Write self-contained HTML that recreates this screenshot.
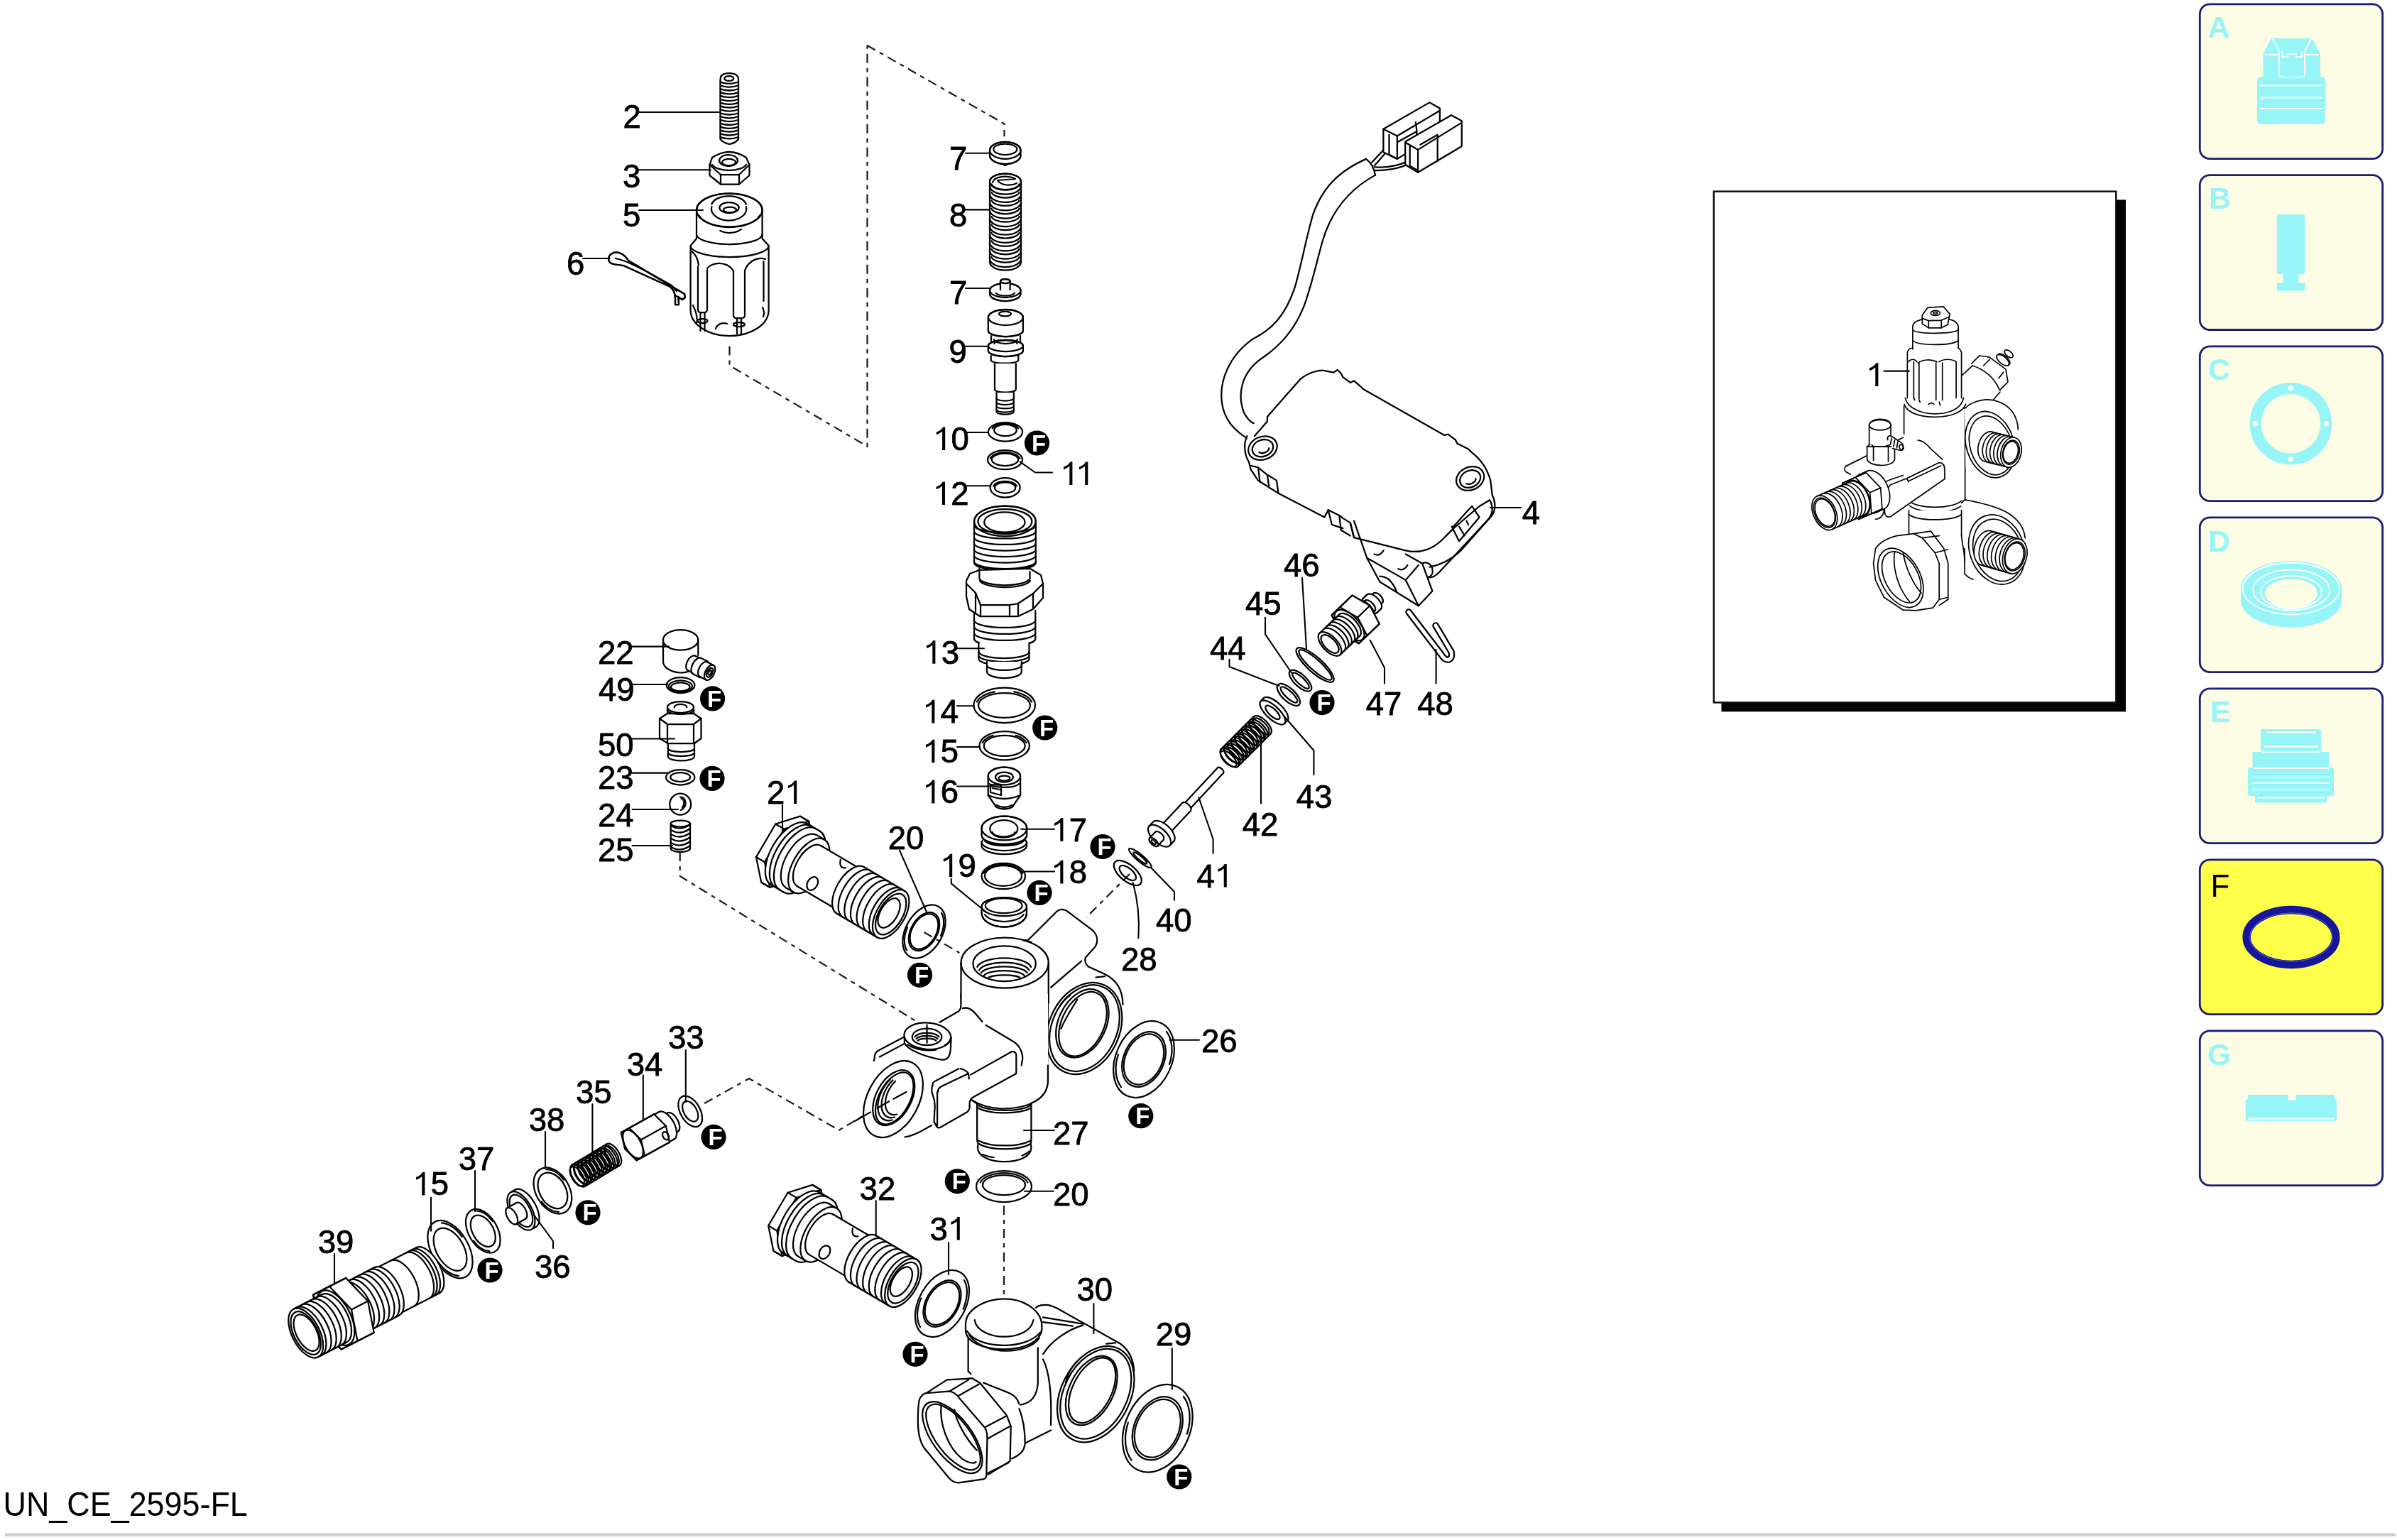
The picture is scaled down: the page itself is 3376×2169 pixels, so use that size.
<!DOCTYPE html>
<html><head><meta charset="utf-8"><title>UN_CE_2595-FL</title><style>
html,body{margin:0;padding:0;background:#fff;width:3376px;height:2169px;overflow:hidden}
svg{position:absolute;left:0;top:0;font-family:"Liberation Sans",sans-serif}
.lb text{font-size:45.5px;fill:#000}
.lb path{fill:#000;stroke:none}
.lb{stroke:#000;stroke-width:0.8}
.ld path{fill:none;stroke:#000;stroke-width:2.1;stroke-linecap:round;stroke-linejoin:round}
.dsh path{fill:none;stroke:#1a1a1a;stroke-width:2.2;stroke-dasharray:13 7 6 7}
.bd circle{fill:#000}
.bd text{fill:#fff;font-size:33px;font-weight:bold}
.k{fill:none;stroke:#000;stroke-width:2.25;stroke-linecap:round;stroke-linejoin:round}
.k .w,.w{fill:#fff}
.k .wf{fill:#fff;stroke:none}
.k *{vector-effect:non-scaling-stroke}
.k .t{stroke-width:1.5}
.k .b{fill:#000}
</style></head><body>
<svg width="3376" height="2169" viewBox="0 0 3376 2169" xmlns="http://www.w3.org/2000/svg">
<defs><filter id="bl" x="0" y="0" width="3376" height="2169" filterUnits="userSpaceOnUse"><feGaussianBlur stdDeviation="0.7"/></filter></defs>
<rect width="3376" height="2169" fill="#fff"/>
<g filter="url(#bl)">
<rect x="3098.3" y="5.9" width="257.4" height="217.8" rx="14" ry="14" fill="#fdfde6" stroke="#1b1b72" stroke-width="2.8"/><rect x="3098.3" y="246.7" width="257.4" height="217.8" rx="14" ry="14" fill="#fdfde6" stroke="#1b1b72" stroke-width="2.8"/><rect x="3098.3" y="487.9" width="257.4" height="217.8" rx="14" ry="14" fill="#fdfde6" stroke="#1b1b72" stroke-width="2.8"/><rect x="3098.3" y="728.9" width="257.4" height="217.8" rx="14" ry="14" fill="#fdfde6" stroke="#1b1b72" stroke-width="2.8"/><rect x="3098.3" y="969.9" width="257.4" height="217.8" rx="14" ry="14" fill="#fdfde6" stroke="#1b1b72" stroke-width="2.8"/><rect x="3098.3" y="1210.9" width="257.4" height="217.8" rx="14" ry="14" fill="#fefd4a" stroke="#1b1b72" stroke-width="2.8"/><rect x="3098.3" y="1451.9" width="257.4" height="217.8" rx="14" ry="14" fill="#fdfde6" stroke="#1b1b72" stroke-width="2.8"/>
<text x="3109.5" y="52.6" style="font-size:43px;font-weight:bold;fill:#97f5f7">A</text><text x="3111.0" y="294.0" style="font-size:43px;font-weight:bold;fill:#97f5f7">B</text><text x="3110.0" y="535.2" style="font-size:43px;font-weight:bold;fill:#97f5f7">C</text><text x="3110.0" y="777.0" style="font-size:43px;font-weight:bold;fill:#97f5f7">D</text><text x="3113.0" y="1017.4" style="font-size:43px;font-weight:bold;fill:#97f5f7">E</text><text x="3109.0" y="1499.8" style="font-size:43px;font-weight:bold;fill:#97f5f7">G</text><text x="3113.5" y="1263.0" style="font-size:44px;fill:#000">F</text><g fill="#97f5f7"><path d="M3199,54 L3256,54 L3268,76 L3268,110 L3187.5,110 L3187.5,76 Z"/><rect x="3179" y="108" width="96" height="67" rx="5"/></g><g fill="none" stroke="#fff" stroke-width="2"><path d="M3183,120.5 L3271,120.5 M3183,137.5 L3271,137.5 M3183,153 L3271,153"/><path d="M3201,55 L3210,72 L3210,104 Q3210,109 3216,109 L3240,109 Q3246,109 3246,104 L3246,72 L3255,55"/><path d="M3214,72 L3214,80 L3222,80 L3222,76 L3234,76 L3234,80 L3242,80 L3242,72"/><path d="M3190,77 L3208,77 M3248,77 L3266,77"/></g><g fill="#97f5f7"><rect x="3207" y="302" width="39.5" height="84" rx="3"/><rect x="3215.6" y="385" width="21.8" height="14"/><rect x="3207" y="398.5" width="39.5" height="11"/></g><circle cx="3226.4" cy="596.7" r="49.8" fill="none" stroke="#97f5f7" stroke-width="16"/><circle cx="3226.4" cy="546.7" r="3.6" fill="#fff"/><circle cx="3226.4" cy="646.7" r="3.6" fill="#fff"/><circle cx="3176.4" cy="596.7" r="3.6" fill="#fff"/><circle cx="3276.4" cy="596.7" r="3.6" fill="#fff"/><g fill="#97f5f7"><path d="M3156,829 A71,39 0 0 1 3298,829 L3298,845 A71,39 0 0 1 3156,845 Z"/></g><ellipse cx="3227" cy="836" rx="37" ry="20.5" fill="#fdfde6"/><g fill="none" stroke="#fff" stroke-width="1.8"><ellipse cx="3227" cy="829" rx="68" ry="36.5"/><ellipse cx="3227" cy="831" rx="54" ry="28.5"/><ellipse cx="3227" cy="834" rx="43" ry="23"/></g><g fill="#97f5f7"><rect x="3184" y="1027" width="85" height="32" rx="3"/><rect x="3172.5" y="1059" width="108" height="23"/><rect x="3166" y="1081" width="121" height="40" rx="3"/><rect x="3176" y="1120" width="101" height="10.5" rx="2"/></g><g stroke="#fff" stroke-width="2"><path d="M3192,1031.5 L3262,1031.5 M3189,1051.5 L3265,1051.5 M3186,1059 L3267,1059 M3175,1082 L3280,1082 M3171,1095 L3282,1095 M3171,1103 L3282,1103 M3172,1112 L3281,1112 M3179,1123.5 L3274,1123.5"/></g><ellipse cx="3227" cy="1320" rx="62.8" ry="38.4" fill="none" stroke="#12129a" stroke-width="11.5"/><ellipse cx="3227" cy="1320" rx="58.5" ry="34.2" fill="none" stroke="#aab0ff" stroke-width="0.8" opacity="0.6"/><g fill="#97f5f7"><path d="M3166,1542 L3222.6,1542 L3222.6,1549.5 L3233.4,1549.5 L3233.4,1542 L3288,1542 L3288,1548 L3291,1549 L3291,1577 Q3291,1579 3288,1579 L3165.8,1579 Q3162.8,1579 3162.8,1576 L3162.8,1549 L3166,1548 Z"/></g><rect x="3166" y="1574" width="122" height="3.5" fill="#d8fcfc"/>
<rect x="2424.5" y="281.4" width="569.5" height="720.9" fill="#000"/>
<rect x="2413.75" y="269.65" width="566.6" height="719.8" fill="#fff" stroke="#111" stroke-width="2.5"/>
<text x="0" y="0" transform="translate(4.6,2134.5) scale(0.935,1)" style="font-size:48px">UN_CE_2595-FL</text>
<rect x="7" y="2159.3" width="3367" height="4.6" fill="#d0d0d0"/>
<g class="dsh"><path d="M1221.5,64.0L1414.5,174.4L1414.5,192.3"/><path d="M1027.5,487.5L1027.5,514.8L1221.5,628.6L1221.5,64.0"/><path d="M957.7,1200.0L957.7,1234.0L1306.0,1448.0"/><path d="M1301.5,1313.0L1351.4,1342.0"/><path d="M992.0,1554.0L1055.0,1519.0L1181.6,1591.7L1238.7,1558.0"/><path d="M1414.0,1698.0L1414.0,1873.0"/><path d="M1591.0,1231.0L1530.0,1292.0"/></g>
<g class="k"><path d="M1014.5,112 Q1014.5,103 1027.3,103 Q1040,103 1040,112 L1040,196 Q1036,201.5 1027.3,203 Q1018.6,201.5 1014.5,196 Z" class="w"/><ellipse cx="1026.8" cy="110.5" rx="6.5" ry="3.4"/><path d="M1014.5,115.5 Q1027.3,120.1 1040,115.5"/><path d="M1014.5,120.3 Q1027.3,124.9 1040,120.3"/><path d="M1014.5,125.2 Q1027.3,129.8 1040,125.2"/><path d="M1014.5,130.1 Q1027.3,134.7 1040,130.1"/><path d="M1014.5,134.9 Q1027.3,139.5 1040,134.9"/><path d="M1014.5,139.8 Q1027.3,144.3 1040,139.8"/><path d="M1014.5,144.6 Q1027.3,149.2 1040,144.6"/><path d="M1014.5,149.4 Q1027.3,154 1040,149.4"/><path d="M1014.5,154.3 Q1027.3,158.9 1040,154.3"/><path d="M1014.5,159.2 Q1027.3,163.8 1040,159.2"/><path d="M1014.5,164 Q1027.3,168.6 1040,164"/><path d="M1014.5,168.8 Q1027.3,173.4 1040,168.8"/><path d="M1014.5,173.7 Q1027.3,178.3 1040,173.7"/><path d="M1014.5,178.6 Q1027.3,183.2 1040,178.6"/><path d="M1014.5,183.4 Q1027.3,188 1040,183.4"/><path d="M1014.5,188.2 Q1027.3,192.8 1040,188.2"/><path d="M1014.5,193.1 Q1027.3,197.7 1040,193.1"/><path d="M999.5,232 L1003,222 Q1027,206 1051,222 L1055.5,232 L1055.5,247 L1041,259.5 L1015,259.5 L999.5,247 Z" class="w"/><path d="M999.5,232 L1015,246 L1041,246 L1055.5,232 M1015,246 L1015,259.5 M1041,246 L1041,259.5"/><path d="M1051.1,231.8A25,11 0 0 1 1002.9,231.8"/><ellipse cx="1026" cy="226" rx="13" ry="8"/><ellipse cx="1026.5" cy="228.5" rx="9.5" ry="4.6"/><path d="M981,296 A46.3,23.5 0 0 1 1073.6,296 L1073.6,336 L1082.6,346 L1082.6,437 A55,36 0 0 1 972.6,437 L972.6,346 L981,336 Z" class="w"/><ellipse cx="1027.3" cy="295.9" rx="46.3" ry="23.5"/><path d="M1050.8,291.2A24.6,16.4 0 1 1 1002.4,291.2"/><path d="M1002.4,287.6A24.6,14 0 0 1 1050.8,287.6"/><ellipse cx="1027" cy="292.5" rx="13.7" ry="7.5"/><ellipse cx="1028" cy="295.5" rx="9" ry="3.8"/><path d="M1069.8,303.7A44,22 0 0 1 984.8,303.7"/><path d="M1044,322.9A26,22 0 0 1 1014.3,325.1"/><path d="M1073.6,330A46.3,14 0 0 1 981,330"/><path d="M1082.6,346A55,16 0 0 1 972.6,346"/><path d="M983,375 L983,436 Q983,440 987,440 L992,440 Q996,440 996,436 L996,380"/><path d="M1033,382 L1033,444 Q1033,448 1037,448 L1045,448 Q1049,448 1049,444 L1049,382"/><path d="M1075.5,368 L1075.5,424"/><path d="M974,354 C980,358 983,366 984,373 M996,378 C1002,369 1025,367 1033,382 M1049,381 C1055,365 1070,362 1078,365"/><path d="M986.5,440 L986.5,466 M992.5,440 L992.5,466 M1038,448 L1038,470 M1044,448 L1044,470"/><ellipse cx="989.5" cy="452" rx="7" ry="3"/><ellipse cx="1041" cy="457" rx="8" ry="3"/><path d="M1008,463 C1010,456 1018,454 1024,456 M976,430 C981,440 983,448 981,456 M1074,433 C1076,438 1077,441 1075,446"/><path d="M885,367 L964,414 L965,419 L961,422 L955,418 L956,429 L951,429 L951,420 C951,414 949,408 944,404 L878,374 C872,373 866,373 861,371 C855,368 856,359 864,356 C870,354 879,357 885,367 Z" class="w"/><path d="M885,367 L964,414 L965,419 L961,422 L953,417"/><path d="M878,374 L944,404 C949,408 951,414 951,420 L951,429 L956,429 L956,419"/><path d="M885,367 C879,357 870,354 864,356 C856,359 855,368 861,371 C866,373 872,373 878,374"/><path d="M867,364 C880,366 900,376 946,402 L953,410"/><path d="M1394,211.8 A21.7,12 0 0 1 1437.5,211.8 L1437.5,219 A21.7,12 0 0 1 1394,219 Z" class="w"/><ellipse cx="1415.8" cy="211.8" rx="21.7" ry="12"/><ellipse cx="1415.8" cy="210.3" rx="16.5" ry="7.8"/><path d="M1437.5,219A21.7,12 0 0 1 1394.1,219"/><path d="M1411,230.5 L1415.8,233 L1420.5,230.5"/><path d="M1394,256 A22,11.5 0 0 1 1438,256 L1438,369 A22,11.5 0 0 1 1394,369 Z" class="w"/><ellipse cx="1416" cy="256" rx="22" ry="11.5"/><path d="M1398,257 C1400,248 1420,246 1430,252 L1405,254 C1410,262 1425,262 1432,258"/><path d="M1438,262A22,11.5 0 0 1 1394,262"/><path d="M1435.6,259.5A20,9.5 0 0 1 1396.4,259.5"/><path d="M1438,273.4A22,11.5 0 0 1 1394,273.4"/><path d="M1435.6,270.9A20,9.5 0 0 1 1396.4,270.9"/><path d="M1438,284.8A22,11.5 0 0 1 1394,284.8"/><path d="M1435.6,282.3A20,9.5 0 0 1 1396.4,282.3"/><path d="M1438,296.2A22,11.5 0 0 1 1394,296.2"/><path d="M1435.6,293.7A20,9.5 0 0 1 1396.4,293.7"/><path d="M1438,307.6A22,11.5 0 0 1 1394,307.6"/><path d="M1435.6,305.1A20,9.5 0 0 1 1396.4,305.1"/><path d="M1438,319A22,11.5 0 0 1 1394,319"/><path d="M1435.6,316.5A20,9.5 0 0 1 1396.4,316.5"/><path d="M1438,330.4A22,11.5 0 0 1 1394,330.4"/><path d="M1435.6,327.9A20,9.5 0 0 1 1396.4,327.9"/><path d="M1438,341.8A22,11.5 0 0 1 1394,341.8"/><path d="M1435.6,339.3A20,9.5 0 0 1 1396.4,339.3"/><path d="M1438,353.2A22,11.5 0 0 1 1394,353.2"/><path d="M1435.6,350.7A20,9.5 0 0 1 1396.4,350.7"/><path d="M1438,364.6A22,11.5 0 0 1 1394,364.6"/><path d="M1435.6,362.1A20,9.5 0 0 1 1396.4,362.1"/><path d="M1394,409 A21.7,10 0 0 1 1437.5,409 L1437.5,414 A21.7,10 0 0 1 1394,414 Z" class="w"/><ellipse cx="1415.8" cy="409" rx="21.7" ry="10"/><path d="M1437.5,414A21.7,10 0 0 1 1394.1,414"/><path d="M1429,412.6A14,6 0 0 1 1402.6,412.6"/><path d="M1409,408 L1409,396 A6.8,3 0 0 1 1422.6,396 L1422.6,408" class="w"/><ellipse cx="1415.8" cy="396" rx="6.8" ry="3"/><path d="M1391.8,447 A24.5,11 0 0 1 1440.9,447 L1440.9,466 A24.5,8 0 0 1 1391.8,466 Z" class="w"/><ellipse cx="1416.4" cy="447" rx="24.5" ry="11"/><ellipse cx="1415.5" cy="442" rx="8.5" ry="3.4"/><path d="M1440.9,466A24.5,8 0 0 1 1391.9,466"/><path d="M1396,473 L1396,481 M1437,473 L1437,481"/><path d="M1391.8,487 A24.5,8 0 0 1 1440.9,487 L1440.9,494 A24.5,8 0 0 1 1391.8,494 Z" class="w"/><path d="M1391.9,487A24.5,8 0 0 1 1440.9,487"/><path d="M1440.9,487A24.5,8 0 0 1 1391.9,487"/><path d="M1440.9,494A24.5,8 0 0 1 1391.9,494"/><path d="M1400.4,484A16,5 0 0 1 1432.4,484"/><path d="M1400,478 A16.4,6 0 0 0 1432.8,478"/><path d="M1395.7,501 L1395.7,508 A20,5 0 0 0 1434.3,508 L1434.3,501"/><path d="M1401,512 L1401,549 A15,4 0 0 0 1430.8,549 L1430.8,512" class="w"/><path d="M1403.5,553 L1403.5,580 A12.2,4 0 0 0 1427.8,580 L1427.8,553" class="w"/><path d="M1427.8,561A12.2,3.5 0 0 1 1403.4,561"/><path d="M1427.8,566.5A12.2,3.5 0 0 1 1403.4,566.5"/><path d="M1427.8,572A12.2,3.5 0 0 1 1403.4,572"/><path d="M1427.8,577A12.2,3.5 0 0 1 1403.4,577"/><ellipse cx="1416" cy="608.3" rx="24.1" ry="13.3" class="w"/><ellipse cx="1416" cy="606" rx="15.8" ry="8.2"/><path d="M1397.7,603.4A19.5,10.5 0 0 1 1434.3,603.4"/><ellipse cx="1415.5" cy="647.6" rx="24.5" ry="13.6" class="w"/><ellipse cx="1415.5" cy="647.3" rx="18.7" ry="8.7"/><path d="M1394.7,645.6A21.5,11.3 0 0 1 1436.3,645.6"/><ellipse cx="1415.6" cy="686.8" rx="21" ry="13.8" class="w"/><ellipse cx="1415.6" cy="687" rx="14.6" ry="7.6"/><path d="M1399.2,684.5A17.5,10.2 0 0 1 1432,684.5"/><path d="M1372,734 A43.4,21.3 0 0 1 1458.8,734 L1458.8,793 A43.4,10 0 0 1 1372,793 Z" class="w"/><ellipse cx="1415.4" cy="734" rx="43.4" ry="21.3"/><ellipse cx="1415.4" cy="734.5" rx="38" ry="17.5"/><ellipse cx="1414.9" cy="735.5" rx="28.7" ry="14.1"/><path d="M1458.8,740A43.4,10 0 0 1 1372,740"/><path d="M1458.8,748.5A43.4,10 0 0 1 1372,748.5"/><path d="M1458.8,757A43.4,10 0 0 1 1372,757"/><path d="M1458.8,765.5A43.4,10 0 0 1 1372,765.5"/><path d="M1458.8,774A43.4,10 0 0 1 1372,774"/><path d="M1458.8,782.5A43.4,10 0 0 1 1372,782.5"/><path d="M1458.8,791A43.4,10 0 0 1 1372,791"/><path d="M1372,860 L1372,900 A43,10 0 0 0 1458.3,900 L1458.3,860" class="w"/><path d="M1458,874.9A43,10 0 0 1 1372.4,874.9"/><path d="M1458,883.9A43,10 0 0 1 1372.4,883.9"/><path d="M1458,892.9A43,10 0 0 1 1372.4,892.9"/><path d="M1458,900.9A43,10 0 0 1 1372.4,900.9"/><path d="M1378.4,905 L1378.4,928 A35.5,9 0 0 0 1449.5,928 L1449.5,905" class="w"/><path d="M1449.5,918A35.5,9 0 0 1 1378.5,918"/><path d="M1449,924.6A35.5,9 0 0 1 1379,924.6"/><path d="M1390,932 L1390,946 A24.4,9 0 0 0 1438.8,946 L1438.8,932" class="w"/><path d="M1438.8,937A24.4,7 0 0 1 1390,937"/><path d="M1379.4,800 L1379.4,812 M1450.5,800 L1450.5,812"/><path d="M1361,818 L1366,808 L1379,803 L1451,801 L1466,810 L1469,822 L1469,842 L1455,858 L1434,868 L1380,868 L1365,858 L1361,840 Z" class="w"/><path d="M1379.4,805 L1379.4,815 A36,11 0 0 0 1450.5,815 L1450.5,805"/><path d="M1450.9,817.9A36,11 0 0 1 1379.9,817.9"/><path d="M1361,822 L1374,835 L1381,852 L1422,852 L1434,850 L1455,836 L1469,822"/><path d="M1381,852 L1381,868 M1422,852 L1422,868 M1434,850 L1434,867 M1374,835 L1374,862 M1455,836 L1455,858"/><ellipse cx="1414.7" cy="993.3" rx="43.3" ry="24.7" class="w"/><ellipse cx="1414.5" cy="993.5" rx="36.5" ry="17.3"/><path d="M1375.9,988.6A40,21 0 0 1 1400.8,974.3"/><path d="M1428.2,974.3A40,21 0 0 1 1453.1,988.6"/><ellipse cx="1414.7" cy="1050.2" rx="35.2" ry="20.2" class="w"/><ellipse cx="1414.7" cy="1050.4" rx="29" ry="14.5"/><path d="M1383.8,1046.1A32,17 0 0 1 1398.7,1035.8"/><path d="M1430.7,1035.8A32,17 0 0 1 1445.6,1046.1"/><path d="M1391.7,1093 A22.7,12.3 0 0 1 1437.1,1093 L1437.1,1120 L1425.5,1137 Q1414.4,1142 1403.4,1137 L1391.7,1120 Z" class="w"/><ellipse cx="1414.4" cy="1093" rx="22.7" ry="12.3"/><ellipse cx="1414.4" cy="1094.5" rx="12.4" ry="7"/><ellipse cx="1414.4" cy="1096" rx="8" ry="3.5"/><path d="M1435.7,1103.7A22.7,8 0 0 1 1393.1,1103.7"/><path d="M1391.7,1120 Q1414.4,1130 1437.1,1120"/><path d="M1395,1105 L1395,1116 L1410,1120 L1410,1106 Z M1398,1110 L1408,1112"/><path d="M1403.4,1134 Q1414.4,1140 1425.5,1134"/><path d="M1382.6,1166.5 A31.8,16.9 0 0 1 1446.2,1166.5 L1446.2,1177 L1443,1182 L1446,1186 L1446,1192 A31.8,12 0 0 1 1382.6,1192 L1382.6,1186 L1385,1182 L1382.6,1177 Z" class="w"/><ellipse cx="1414.4" cy="1166.5" rx="31.8" ry="16.9"/><ellipse cx="1413.8" cy="1167.3" rx="19.5" ry="12.3"/><path d="M1429.1,1172A15.6,6.5 0 0 1 1397.9,1172"/><path d="M1445.7,1179.1A31.8,12 0 0 1 1383.1,1179.1"/><path d="M1446.2,1186A31.8,12 0 0 1 1382.6,1186"/><path d="M1441.7,1184.4A29,10 0 0 1 1387.1,1184.4"/><ellipse cx="1413.3" cy="1234" rx="30.7" ry="18.2" class="w"/><ellipse cx="1413" cy="1233.5" rx="26" ry="14.3"/><path d="M1385.5,1229.8A28.5,16.2 0 0 1 1440.5,1229.8"/><path d="M1382.6,1277 A31.7,13 0 0 1 1446,1277 L1446,1286 A31.7,19.5 0 0 1 1382.6,1286 Z" class="w"/><ellipse cx="1414.3" cy="1277" rx="31.7" ry="13"/><ellipse cx="1413.7" cy="1275.6" rx="26" ry="10.4"/><path d="M1446,1286A31.7,19.5 0 0 1 1382.6,1286"/><path d="M1441.6,1288.1A29,15 0 0 1 1387,1288.1"/><g transform="translate(1340,1270) scale(0.168833)"><path class="wf" d="M640,320 L880,80 C905,60 935,62 960,75 L1180,240 C1220,280 1225,330 1200,375 L1120,465 C1110,490 1120,520 1140,540 L1270,600 C1380,650 1430,740 1430,860 L1300,1400 L810,1400 L810,500 Z"/><path class="wf" d="M80,510 L80,1000 L800,1540 L810,510 Z"/><ellipse class="wf" cx="445" cy="510" rx="365" ry="210"/><path d="M600,320 L640,320 L880,80 C905,60 935,62 960,75 L1180,240 C1220,280 1225,330 1200,375 L1120,465 C1110,490 1120,520 1140,540 L1270,600 C1380,650 1430,740 1430,860"/><path d="M600,322 C630,330 650,335 668,338"/><path d="M830,715 L1085,495"/><path d="M1205,632 L1280,622"/><ellipse cx="1108" cy="1057" rx="398.6" ry="293.7" transform="rotate(-65 1108 1057)" class="w"/><ellipse cx="1110" cy="1055" rx="376.7" ry="270.1" transform="rotate(-65 1110 1055)"/><ellipse cx="1092" cy="1015" rx="300.6" ry="198.2" transform="rotate(-65 1092 1015)"/><ellipse cx="1096" cy="1020" rx="284" ry="176.5" transform="rotate(-65 1096 1020)"/><path d="M990,780 C960,800 930,830 905,870"/><path d="M1050,815 C1000,900 940,990 915,1060"/><ellipse cx="445" cy="510" rx="365" ry="210"/><ellipse cx="442" cy="517" rx="262" ry="147"/><path d="M215.5,544.4A228,90 0 0 1 664.5,544.4"/><path d="M231.2,571.5A212,78 0 0 1 648.8,571.5"/><path d="M248,593.9A195,64 0 0 1 632,593.9"/><path d="M270.6,616.3A172,50 0 0 1 609.4,616.3"/><path d="M302.1,639.3A140,33 0 0 1 577.9,639.3"/><path d="M80,510 L80,880 C80,910 60,925 0,950"/><path d="M810,510 L810,845 M805,852 L800,1390"/></g><g transform="translate(1200,1400) scale(0.162338)"><path class="wf" d="M945,0 L1700,0 L1700,760 C1695,850 1640,910 1560,945 L1555,1290 C1555,1400 1450,1450 1320,1450 C1200,1450 1090,1400 1090,1290 L1085,960 L1040,920 L1020,920 L1010,990 L990,1030 L760,1160 L735,1150 L720,1120 L690,1140 L560,1210 L460,1240 C330,1250 200,1180 140,1000 C80,800 100,620 190,575 L195,540 C195,520 205,505 230,490 L450,370 C455,300 560,250 655,250 C700,250 740,255 760,245 L930,150 Z"/><path d="M945,0 L945,100 C945,130 935,145 915,155 L760,245"/><path class="wf" d="M455,370 L455,425 C470,470 600,540 780,570 C830,575 850,540 855,480 L860,380 Z"/><ellipse cx="655" cy="365" rx="203" ry="115" transform="rotate(4 655 365)"/><ellipse cx="650" cy="372" rx="128" ry="72"/><path d="M544.8,372.2A112,52 0 0 1 755.2,372.2"/><path d="M557.9,388.3A98,40 0 0 1 742.1,388.3"/><path d="M571.1,404.4A84,28 0 0 1 728.9,404.4"/><path d="M650,268 L650,425"/><path d="M455,380 L455,425 C470,470 600,540 780,570 C830,575 850,540 855,480 L860,380"/><path d="M480,440 C560,485 650,495 730,485"/><path d="M805,445 C830,432 845,415 850,398"/><path d="M452,372 L230,490 C205,505 195,520 195,560 L190,578"/><path d="M452,432 L240,545"/><ellipse cx="357" cy="912" rx="357" ry="222.2" transform="rotate(-62 357 912)" class="w"/><ellipse cx="362" cy="900" rx="259.3" ry="153.2" transform="rotate(-62 362 900)"/><ellipse cx="368" cy="905" rx="244.6" ry="134.2" transform="rotate(-62 368 905)"/><path d="M347.5,1093.5A223,131.8 -62 0 1 331.6,740"/><path d="M368.5,1068.7A202.3,119.5 -62 0 1 354.1,748.1"/><path d="M389.5,1044A181.5,107.3 -62 0 1 376.6,756.3"/><path d="M30,1100 L160,1025 M220,990 L320,932 M360,910 L470,850"/><path d="M460,1240 C520,1235 560,1210 600,1190 L690,1140"/><path d="M700,790 C695,770 710,760 730,752 L925,648"/><path d="M940,648 C965,652 1000,670 1010,690 L1015,735"/><path d="M1030,700 L1385,500 C1410,495 1425,510 1425,530 L1425,690 L1060,890 C1030,905 1020,925 1020,950 L1020,990 C1015,1010 1000,1025 985,1032 L770,1155 C750,1165 735,1160 730,1140"/><path d="M700,790 C688,815 690,850 702,880 C718,920 722,970 716,1020 L712,1110 L730,1140"/><path d="M740,850 L740,1140"/><path d="M745,850 C745,825 760,805 790,795 L1010,690"/><path d="M1040,920 C1100,960 1200,990 1300,995 C1420,995 1520,970 1560,945"/><path d="M1700,620 L1700,760 C1695,850 1640,910 1560,945"/><path d="M960,125 C1000,110 1040,130 1080,180 L1130,240"/><path d="M1160,270 L1380,400 C1440,430 1480,490 1480,560 L1470,620"/><path d="M1040,922 C1060,935 1075,945 1085,955 L1085,1265 C1085,1280 1092,1292 1095,1300 L1090,1330 C1090,1410 1200,1455 1320,1455 C1450,1455 1555,1410 1555,1330 L1550,1295 C1555,1285 1555,1270 1555,1260 L1555,960"/><path d="M1085,962 C1200,1025 1450,1025 1555,965"/><path d="M1090,988 C1200,1045 1440,1045 1550,992"/><path d="M1095,1270 C1200,1330 1450,1330 1550,1270"/><path d="M1100,1300 C1200,1360 1450,1360 1550,1300"/><path d="M1130,1392 C1170,1408 1200,1414 1230,1418"/><path d="M1475,1402 C1500,1392 1520,1382 1535,1366"/></g><g transform="translate(1254.7,1287.5) rotate(30.5)"><path class="wf" d="M-204.3,-27 L-180,-54 L-166,-54 L-141.7,-27 L-141.7,27 L-166,54 L-180,54 L-204.3,27Z"/><path d="M-204.3,-27 L-180,-54 L-166,-54 L-141.7,-27 L-141.7,27 L-166,54 L-180,54 L-204.3,27Z"/><path d="M-141.7,27 L-166,54 L-190.3,27 L-190.3,-27 L-166,-54 L-141.7,-27Z"/><path d="M-180,54 L-166,54"/><path d="M-204.3,27 L-190.3,27"/><path d="M-204.3,-27 L-190.3,-27"/><path d="M-180,-54 L-166,-54"/><path class="wf" d="M-166,-50 L-146,-50 A26,50 0 0 1 -146,50 L-166,50 A26,50 0 0 1 -166,-50 Z"/><path d="M-166,-50 L-146,-50 M-166,50 L-146,50"/><path d="M-166,50A26,50 0 0 1 -166,-50"/><path d="M-146,-50A26,50 0 0 1 -146,50"/><path d="M-159,50A26,50 0 0 1 -159,-50"/><path d="M-152,50A26,50 0 0 1 -152,-50"/><path class="wf" d="M-146,-43 L-134,-43 A22.4,43 0 0 1 -134,43 L-146,43 A22.4,43 0 0 1 -146,-43 Z"/><path d="M-146,-43 L-134,-43 M-146,43 L-134,43"/><path d="M-146,43A22.4,43 0 0 1 -146,-43"/><ellipse cx="-134" cy="0" rx="22.4" ry="43"/><path d="M-124.1,-32.9A19.8,38 0 0 1 -124.1,32.9"/><path class="wf" d="M-134,-33 L-66,-33 A17.2,33 0 0 1 -66,33 L-134,33 A17.2,33 0 0 1 -134,-33 Z"/><path d="M-134,-33 L-66,-33 M-134,33 L-66,33"/><path d="M-134,33A17.2,33 0 0 1 -134,-33"/><path d="M-66,-33A17.2,33 0 0 1 -66,33"/><path class="wf" d="M-66,-38 L0,-38 A19.8,38 0 0 1 0,38 L-66,38 A19.8,38 0 0 1 -66,-38 Z"/><path d="M-66,-38 L0,-38 M-66,38 L0,38"/><path d="M-66,38A19.8,38 0 0 1 -66,-38"/><ellipse cx="0" cy="0" rx="19.8" ry="38"/><path d="M-56,38A19.8,38 0 0 1 -56,-38"/><path d="M-46,38A19.8,38 0 0 1 -46,-38"/><path d="M-36,38A19.8,38 0 0 1 -36,-38"/><path d="M-26,38A19.8,38 0 0 1 -26,-38"/><path d="M-16,38A19.8,38 0 0 1 -16,-38"/><path d="M-6,38A19.8,38 0 0 1 -6,-38"/><ellipse cx="0" cy="0" rx="16.6" ry="32"/><ellipse cx="-3" cy="0" rx="12" ry="23"/><ellipse cx="-117" cy="19" rx="7" ry="10"/><path d="M-100,-30 C-97,-22 -93,-20 -88,-24"/></g><g transform="translate(1271.9,1806.7) rotate(30.5)"><path class="wf" d="M-204.3,-27 L-180,-54 L-166,-54 L-141.7,-27 L-141.7,27 L-166,54 L-180,54 L-204.3,27Z"/><path d="M-204.3,-27 L-180,-54 L-166,-54 L-141.7,-27 L-141.7,27 L-166,54 L-180,54 L-204.3,27Z"/><path d="M-141.7,27 L-166,54 L-190.3,27 L-190.3,-27 L-166,-54 L-141.7,-27Z"/><path d="M-180,54 L-166,54"/><path d="M-204.3,27 L-190.3,27"/><path d="M-204.3,-27 L-190.3,-27"/><path d="M-180,-54 L-166,-54"/><path class="wf" d="M-166,-50 L-146,-50 A26,50 0 0 1 -146,50 L-166,50 A26,50 0 0 1 -166,-50 Z"/><path d="M-166,-50 L-146,-50 M-166,50 L-146,50"/><path d="M-166,50A26,50 0 0 1 -166,-50"/><path d="M-146,-50A26,50 0 0 1 -146,50"/><path d="M-159,50A26,50 0 0 1 -159,-50"/><path d="M-152,50A26,50 0 0 1 -152,-50"/><path class="wf" d="M-146,-43 L-134,-43 A22.4,43 0 0 1 -134,43 L-146,43 A22.4,43 0 0 1 -146,-43 Z"/><path d="M-146,-43 L-134,-43 M-146,43 L-134,43"/><path d="M-146,43A22.4,43 0 0 1 -146,-43"/><ellipse cx="-134" cy="0" rx="22.4" ry="43"/><path d="M-124.1,-32.9A19.8,38 0 0 1 -124.1,32.9"/><path class="wf" d="M-134,-33 L-66,-33 A17.2,33 0 0 1 -66,33 L-134,33 A17.2,33 0 0 1 -134,-33 Z"/><path d="M-134,-33 L-66,-33 M-134,33 L-66,33"/><path d="M-134,33A17.2,33 0 0 1 -134,-33"/><path d="M-66,-33A17.2,33 0 0 1 -66,33"/><path class="wf" d="M-66,-38 L0,-38 A19.8,38 0 0 1 0,38 L-66,38 A19.8,38 0 0 1 -66,-38 Z"/><path d="M-66,-38 L0,-38 M-66,38 L0,38"/><path d="M-66,38A19.8,38 0 0 1 -66,-38"/><ellipse cx="0" cy="0" rx="19.8" ry="38"/><path d="M-56,38A19.8,38 0 0 1 -56,-38"/><path d="M-46,38A19.8,38 0 0 1 -46,-38"/><path d="M-36,38A19.8,38 0 0 1 -36,-38"/><path d="M-26,38A19.8,38 0 0 1 -26,-38"/><path d="M-16,38A19.8,38 0 0 1 -16,-38"/><path d="M-6,38A19.8,38 0 0 1 -6,-38"/><ellipse cx="0" cy="0" rx="16.6" ry="32"/><ellipse cx="-3" cy="0" rx="12" ry="23"/><ellipse cx="-117" cy="19" rx="7" ry="10"/><path d="M-100,-30 C-97,-22 -93,-20 -88,-24"/></g><ellipse cx="1301.5" cy="1312" rx="40.6" ry="25.7" transform="rotate(-60 1301.5 1312)"/><ellipse cx="1301.5" cy="1312" rx="29.2" ry="18.5" transform="rotate(-60 1301.5 1312)"/><ellipse cx="1301.5" cy="1312" rx="26.8" ry="17" transform="rotate(-60 1301.5 1312)"/><path d="M1277,1338.3A37.3,23.6 -60 0 1 1278.1,1306"/><path d="M1326,1285.7A37.3,23.6 -60 0 1 1324.9,1318"/><ellipse cx="1327" cy="1836" rx="50.9" ry="32.6" transform="rotate(-60 1327 1836)"/><ellipse cx="1327" cy="1836" rx="35.6" ry="22.8" transform="rotate(-60 1327 1836)"/><ellipse cx="1327" cy="1836" rx="32.6" ry="20.9" transform="rotate(-60 1327 1836)"/><path d="M1296.1,1869A46.8,30 -60 0 1 1297.4,1828.3"/><path d="M1357.9,1803A46.8,30 -60 0 1 1356.6,1843.7"/><ellipse cx="1611" cy="1492" rx="56.6" ry="39.3" transform="rotate(-65 1611 1492)"/><ellipse cx="1611" cy="1492" rx="37.3" ry="25.9" transform="rotate(-65 1611 1492)"/><ellipse cx="1611" cy="1492" rx="40.7" ry="28.3" transform="rotate(-65 1611 1492)"/><path d="M1579.1,1531.1A52.1,36.2 -65 0 1 1574.9,1485.1"/><path d="M1642.9,1452.9A52.1,36.2 -65 0 1 1647.1,1498.9"/><ellipse cx="1630.3" cy="2011.8" rx="64.8" ry="45.2" transform="rotate(-65 1630.3 2011.8)"/><ellipse cx="1630.3" cy="2011.8" rx="42.8" ry="29.8" transform="rotate(-65 1630.3 2011.8)"/><ellipse cx="1630.3" cy="2011.8" rx="46.7" ry="32.6" transform="rotate(-65 1630.3 2011.8)"/><path d="M1593.7,2056.6A59.7,41.6 -65 0 1 1588.8,2003.9"/><path d="M1666.9,1967A59.7,41.6 -65 0 1 1671.8,2019.7"/><ellipse cx="1414" cy="1671" rx="39" ry="22" class="w"/><ellipse cx="1414" cy="1669" rx="30" ry="14"/><path d="M1380.7,1665.3A34.5,18 0 0 1 1447.3,1665.3"/><ellipse cx="634" cy="1759.7" rx="44.4" ry="26" transform="rotate(60 634 1759.7)"/><ellipse cx="634" cy="1759.7" rx="32.9" ry="19.2" transform="rotate(60 634 1759.7)"/><path d="M621.9,1722.4A40.9,23.9 60 0 1 650.8,1741.8"/><path d="M646.1,1797A40.9,23.9 60 0 1 617.2,1777.6"/><ellipse cx="680.3" cy="1733.8" rx="33.6" ry="20.3" transform="rotate(60 680.3 1733.8)"/><ellipse cx="680.3" cy="1733.8" rx="24.2" ry="14.6" transform="rotate(60 680.3 1733.8)"/><path d="M671.3,1705.4A30.9,18.7 60 0 1 693.6,1719.9"/><path d="M689.3,1762.2A30.9,18.7 60 0 1 667,1747.7"/><ellipse cx="778.4" cy="1677" rx="34.9" ry="23.5" transform="rotate(60 778.4 1677)"/><ellipse cx="778.4" cy="1677" rx="27.2" ry="18.3" transform="rotate(60 778.4 1677)"/><path d="M769.7,1647.2A32.1,21.6 60 0 1 794,1661.5"/><path d="M787.1,1706.8A32.1,21.6 60 0 1 762.8,1692.5"/><ellipse cx="972.2" cy="1565.3" rx="23.8" ry="13.8" transform="rotate(60 972.2 1565.3)"/><ellipse cx="972.2" cy="1565.3" rx="15.7" ry="9.1" transform="rotate(60 972.2 1565.3)"/><ellipse cx="1588.3" cy="1229.5" rx="23.6" ry="11.4" transform="rotate(40 1588.3 1229.5)"/><ellipse cx="1588.3" cy="1229.5" rx="14.2" ry="6.8" transform="rotate(40 1588.3 1229.5)"/><ellipse cx="1605.8" cy="1208.5" rx="20.2" ry="4.7" transform="rotate(40 1605.8 1208.5)"/><ellipse cx="1605.8" cy="1208.5" rx="12.1" ry="2.8" transform="rotate(40 1605.8 1208.5)"/><ellipse cx="1814.9" cy="978.5" rx="20.5" ry="9" transform="rotate(43 1814.9 978.5)"/><ellipse cx="1815.5" cy="978.5" rx="15.5" ry="5" transform="rotate(43 1815.5 978.5)"/><ellipse cx="1831.5" cy="958.7" rx="20" ry="8.5" transform="rotate(43 1831.5 958.7)"/><ellipse cx="1832" cy="958.7" rx="15.5" ry="4.8" transform="rotate(43 1832 958.7)"/><ellipse cx="1852.1" cy="936.5" rx="34.5" ry="10.5" transform="rotate(42 1852.1 936.5)"/><ellipse cx="1852.5" cy="936.5" rx="30.5" ry="7.5" transform="rotate(42 1852.5 936.5)"/><g transform="translate(1796.5,999) rotate(133)"><path class="wf" d="M0,-23 L6,-23 A9.2,23 0 0 1 6,23 L0,23 A9.2,23 0 0 1 0,-23 Z"/><path d="M0,-23 L6,-23 M0,23 L6,23"/><path d="M0,23A9.2,23 0 0 1 -0,-23"/><ellipse cx="6" cy="0" rx="9.2" ry="23"/><ellipse cx="6" cy="0" rx="5.2" ry="13"/></g><g transform="translate(602.2,1789.4) rotate(152.8)"><path class="wf" d="M0,-36 L65,-36 A18.4,36 0 0 1 65,36 L0,36 A18.4,36 0 0 1 0,-36 Z"/><path d="M0,-36 L65,-36 M0,36 L65,36"/><path d="M0,36A18.4,36 0 0 1 -0,-36"/><path d="M65,-36A18.4,36 0 0 1 65,36"/><path d="M6,36A18.4,36 0 0 1 6,-36"/><path d="M11,36A18.4,36 0 0 1 11,-36"/><path d="M16,36A18.4,36 0 0 1 16,-36"/><path d="M40,36A18.4,36 0 0 1 40,-36"/><path class="wf" d="M65,-38 L120,-38 A19.4,38 0 0 1 120,38 L65,38 A19.4,38 0 0 1 65,-38 Z"/><path d="M65,-38 L120,-38 M65,38 L120,38"/><path d="M65,38A19.4,38 0 0 1 65,-38"/><path d="M120,-38A19.4,38 0 0 1 120,38"/><path d="M72,38A19.4,38 0 0 1 72,-38"/><path d="M80,38A19.4,38 0 0 1 80,-38"/><path d="M88,38A19.4,38 0 0 1 88,-38"/><path d="M96,38A19.4,38 0 0 1 96,-38"/><path d="M104,38A19.4,38 0 0 1 104,-38"/><path d="M112,38A19.4,38 0 0 1 112,-38"/><path class="wf" d="M94.5,0 L107.2,-43.3 L158.8,-43.3 L171.5,0 L158.8,43.3 L107.2,43.3Z"/><path d="M94.5,0 L107.2,-43.3 L158.8,-43.3 L171.5,0 L158.8,43.3 L107.2,43.3Z"/><path d="M171.5,0 L158.8,43.3 L133.2,43.3 L120.5,0 L133.2,-43.3 L158.8,-43.3Z"/><path d="M107.2,43.3 L133.2,43.3"/><path d="M94.5,0 L120.5,0"/><path d="M107.2,-43.3 L133.2,-43.3"/><ellipse cx="146" cy="0" rx="21.4" ry="42"/><path class="wf" d="M148,-38 L192.8,-38 A19.4,38 0 0 1 192.8,38 L148,38 A19.4,38 0 0 1 148,-38 Z"/><path d="M148,-38 L192.8,-38 M148,38 L192.8,38"/><path d="M148,38A19.4,38 0 0 1 148,-38"/><ellipse cx="192.8" cy="0" rx="19.4" ry="38"/><path d="M156,38A19.4,38 0 0 1 156,-38"/><path d="M164,38A19.4,38 0 0 1 164,-38"/><path d="M172,38A19.4,38 0 0 1 172,-38"/><path d="M180,38A19.4,38 0 0 1 180,-38"/><path d="M188,38A19.4,38 0 0 1 188,-38"/><ellipse cx="192.8" cy="0" rx="16.8" ry="33"/><ellipse cx="191.8" cy="0" rx="14.3" ry="28"/></g><g transform="translate(947.5,1580.5) rotate(151)"><path class="wf" d="M0,-15 L10,-15 A7.5,15 0 0 1 10,15 L0,15 A7.5,15 0 0 1 0,-15 Z"/><path d="M0,-15 L10,-15 M0,15 L10,15"/><path d="M0,15A7.5,15 0 0 1 -0,-15"/><path d="M10,-15A7.5,15 0 0 1 10,15"/><path class="wf" d="M10,-22 L24,-22 A11,22 0 0 1 24,22 L10,22 A11,22 0 0 1 10,-22 Z"/><path d="M10,-22 L24,-22 M10,22 L24,22"/><path d="M10,22A11,22 0 0 1 10,-22"/><path d="M24,-22A11,22 0 0 1 24,22"/><path class="wf" d="M11,0 L17.5,-22.5 L70.5,-22.5 L77,0 L70.5,22.5 L17.5,22.5Z"/><path d="M11,0 L17.5,-22.5 L70.5,-22.5 L77,0 L70.5,22.5 L17.5,22.5Z"/><path d="M77,0 L70.5,22.5 L57.5,22.5 L51,0 L57.5,-22.5 L70.5,-22.5Z"/><path d="M17.5,22.5 L57.5,22.5"/><path d="M11,0 L51,0"/><path d="M17.5,-22.5 L57.5,-22.5"/><ellipse cx="64" cy="0" rx="11" ry="22"/><ellipse cx="18" cy="-12" rx="4" ry="6"/></g><g transform="translate(866,1625) rotate(149)"><ellipse cx="3" cy="0" rx="8.8" ry="17.6"/><ellipse cx="5.2" cy="0" rx="7.6" ry="15.4"/><ellipse cx="9.3" cy="0" rx="8.8" ry="17.6"/><ellipse cx="11.5" cy="0" rx="7.6" ry="15.4"/><ellipse cx="15.6" cy="0" rx="8.8" ry="17.6"/><ellipse cx="17.8" cy="0" rx="7.6" ry="15.4"/><ellipse cx="21.9" cy="0" rx="8.8" ry="17.6"/><ellipse cx="24.1" cy="0" rx="7.6" ry="15.4"/><ellipse cx="28.2" cy="0" rx="8.8" ry="17.6"/><ellipse cx="30.4" cy="0" rx="7.6" ry="15.4"/><ellipse cx="34.5" cy="0" rx="8.8" ry="17.6"/><ellipse cx="36.7" cy="0" rx="7.6" ry="15.4"/><ellipse cx="40.8" cy="0" rx="8.8" ry="17.6"/><ellipse cx="43" cy="0" rx="7.6" ry="15.4"/><ellipse cx="47.1" cy="0" rx="8.8" ry="17.6"/><ellipse cx="49.3" cy="0" rx="7.6" ry="15.4"/><ellipse cx="53.4" cy="0" rx="8.8" ry="17.6"/><ellipse cx="55.6" cy="0" rx="7.6" ry="15.4"/><ellipse cx="59.7" cy="0" rx="8.8" ry="17.6"/><ellipse cx="61.9" cy="0" rx="7.6" ry="15.4"/><path d="M3,-17.6 L60,-17.6 M3,17.6 L60,17.6"/></g><g transform="translate(740,1702) rotate(151)"><path class="wf" d="M0,-30 L7,-30 A15,30 0 0 1 7,30 L0,30 A15,30 0 0 1 0,-30 Z"/><path d="M0,-30 L7,-30 M0,30 L7,30"/><path d="M0,30A15,30 0 0 1 -0,-30"/><ellipse cx="7" cy="0" rx="15" ry="30"/><ellipse cx="7" cy="0" rx="12.5" ry="25"/><path class="wf" d="M7,-13 L22,-13 A6.5,13 0 0 1 22,13 L7,13 A6.5,13 0 0 1 7,-13 Z"/><path d="M7,-13 L22,-13 M7,13 L22,13"/><path d="M7,13A6.5,13 0 0 1 7,-13"/><ellipse cx="22" cy="0" rx="6.5" ry="13"/></g><g transform="translate(1719,1085) rotate(133)"><path class="wf" d="M0,-5.5 L70,-5.5 A2.8,5.5 0 0 1 70,5.5 L0,5.5 A2.8,5.5 0 0 1 0,-5.5 Z"/><path d="M0,-5.5 L70,-5.5 M0,5.5 L70,5.5"/><path d="M0,5.5A2.8,5.5 0 0 1 -0,-5.5"/><path d="M70,-5.5A2.8,5.5 0 0 1 70,5.5"/><path class="wf" d="M70,-8 L118,-8 A4,8 0 0 1 118,8 L70,8 A4,8 0 0 1 70,-8 Z"/><path d="M70,-8 L118,-8 M70,8 L118,8"/><path d="M70,8A4,8 0 0 1 70,-8"/><path d="M118,-8A4,8 0 0 1 118,8"/><path class="wf" d="M118,-20 L126,-20 A10,20 0 0 1 126,20 L118,20 A10,20 0 0 1 118,-20 Z"/><path d="M118,-20 L126,-20 M118,20 L126,20"/><path d="M118,20A10,20 0 0 1 118,-20"/><ellipse cx="126" cy="0" rx="10" ry="20"/><path class="wf" d="M126,-8 L138,-8 A4,8 0 0 1 138,8 L126,8 A4,8 0 0 1 126,-8 Z"/><path d="M126,-8 L138,-8 M126,8 L138,8"/><path d="M126,8A4,8 0 0 1 126,-8"/><ellipse cx="138" cy="0" rx="4" ry="8"/><ellipse cx="138" cy="0" rx="2" ry="4"/></g><g transform="translate(1779,1020) rotate(135)"><ellipse cx="2" cy="0" rx="8" ry="17"/><ellipse cx="4" cy="0" rx="6.8" ry="14.5"/><ellipse cx="9.2" cy="0" rx="8" ry="17"/><ellipse cx="11.2" cy="0" rx="6.8" ry="14.5"/><ellipse cx="16.4" cy="0" rx="8" ry="17"/><ellipse cx="18.4" cy="0" rx="6.8" ry="14.5"/><ellipse cx="23.6" cy="0" rx="8" ry="17"/><ellipse cx="25.6" cy="0" rx="6.8" ry="14.5"/><ellipse cx="30.8" cy="0" rx="8" ry="17"/><ellipse cx="32.8" cy="0" rx="6.8" ry="14.5"/><ellipse cx="38" cy="0" rx="8" ry="17"/><ellipse cx="40" cy="0" rx="6.8" ry="14.5"/><ellipse cx="45.2" cy="0" rx="8" ry="17"/><ellipse cx="47.2" cy="0" rx="6.8" ry="14.5"/><ellipse cx="52.4" cy="0" rx="8" ry="17"/><ellipse cx="54.4" cy="0" rx="6.8" ry="14.5"/><ellipse cx="59.6" cy="0" rx="8" ry="17"/><ellipse cx="61.6" cy="0" rx="6.8" ry="14.5"/><ellipse cx="66.8" cy="0" rx="8" ry="17"/><ellipse cx="68.8" cy="0" rx="6.8" ry="14.5"/><path d="M2,-17 L68,-17 M2,17 L68,17"/></g><g transform="translate(1941,842) rotate(136.3)"><path class="wf" d="M0,-9 L8,-9 A4.5,9 0 0 1 8,9 L0,9 A4.5,9 0 0 1 0,-9 Z"/><path d="M0,-9 L8,-9 M0,9 L8,9"/><path d="M0,9A4.5,9 0 0 1 -0,-9"/><path d="M8,-9A4.5,9 0 0 1 8,9"/><path class="wf" d="M8,-14 L16,-14 A7,14 0 0 1 16,14 L8,14 A7,14 0 0 1 8,-14 Z"/><path d="M8,-14 L16,-14 M8,14 L16,14"/><path d="M8,14A7,14 0 0 1 8,-14"/><path d="M16,-14A7,14 0 0 1 16,14"/><path class="wf" d="M16,-10 L24,-10 A5,10 0 0 1 24,10 L16,10 A5,10 0 0 1 16,-10 Z"/><path d="M16,-10 L24,-10 M16,10 L24,10"/><path d="M16,10A5,10 0 0 1 16,-10"/><path d="M24,-10A5,10 0 0 1 24,10"/><path class="wf" d="M24,-16 L32,-16 A8,16 0 0 1 32,16 L24,16 A8,16 0 0 1 24,-16 Z"/><path d="M24,-16 L32,-16 M24,16 L32,16"/><path d="M24,16A8,16 0 0 1 24,-16"/><path d="M32,-16A8,16 0 0 1 32,16"/><path class="wf" d="M16,0 L24,-27.7 L64,-27.7 L72,0 L64,27.7 L24,27.7Z"/><path d="M16,0 L24,-27.7 L64,-27.7 L72,0 L64,27.7 L24,27.7Z"/><path d="M72,0 L64,27.7 L48,27.7 L40,0 L48,-27.7 L64,-27.7Z"/><path d="M24,27.7 L48,27.7"/><path d="M16,0 L40,0"/><path d="M24,-27.7 L48,-27.7"/><ellipse cx="56" cy="0" rx="13.5" ry="27"/><path class="wf" d="M56,-21 L94,-21 A10.5,21 0 0 1 94,21 L56,21 A10.5,21 0 0 1 56,-21 Z"/><path d="M56,-21 L94,-21 M56,21 L94,21"/><path d="M56,21A10.5,21 0 0 1 56,-21"/><ellipse cx="94" cy="0" rx="10.5" ry="21"/><path d="M62,21A10.5,21 0 0 1 62,-21"/><path d="M68,21A10.5,21 0 0 1 68,-21"/><path d="M74,21A10.5,21 0 0 1 74,-21"/><path d="M80,21A10.5,21 0 0 1 80,-21"/><path d="M86,21A10.5,21 0 0 1 86,-21"/><ellipse cx="94" cy="0" rx="8" ry="16"/></g><path d="M1984,862 L2030,922 C2036,933 2047,931 2044,918 L2022,881" style="stroke-width:9.5;stroke-linecap:round"/><path d="M1984,862 L2030,922 C2036,933 2047,931 2044,918 L2022,881" style="stroke:#fff;stroke-width:5;stroke-linecap:round"/><path class="wf" d="M934,901 A24.7,14.3 0 0 1 983.3,901 L983.3,934 C975,945 965,948 959,947.5 C945,947 934,940 934,932 Z"/><ellipse cx="958.6" cy="901.4" rx="24.7" ry="14.3"/><path d="M934,901 L934,932 C934,940 945,947 959,947.5 C963,947.5 968,946.5 972,945 M983.3,901 L983.3,923"/><g transform="translate(973.9,933.9) rotate(27.5)"><path class="wf" d="M0,-11.5 L9,-11.5 A6.3,11.5 0 0 1 9,11.5 L0,11.5 A6.3,11.5 0 0 1 0,-11.5 Z"/><path d="M0,-11.5 L9,-11.5 M0,11.5 L9,11.5"/><path d="M0,11.5A6.3,11.5 0 0 1 -0,-11.5"/><path d="M9,-11.5A6.3,11.5 0 0 1 9,11.5"/><path class="wf" d="M9,-12.5 L19,-12.5 A6.9,12.5 0 0 1 19,12.5 L9,12.5 A6.9,12.5 0 0 1 9,-12.5 Z"/><path d="M9,-12.5 L19,-12.5 M9,12.5 L19,12.5"/><path d="M9,12.5A6.9,12.5 0 0 1 9,-12.5"/><path d="M19,-12.5A6.9,12.5 0 0 1 19,12.5"/><path class="wf" d="M19,-11.5 L29,-11.5 A6.3,11.5 0 0 1 29,11.5 L19,11.5 A6.3,11.5 0 0 1 19,-11.5 Z"/><path d="M19,-11.5 L29,-11.5 M19,11.5 L29,11.5"/><path d="M19,11.5A6.3,11.5 0 0 1 19,-11.5"/><ellipse cx="29" cy="0" rx="6.3" ry="11.5"/><ellipse cx="29" cy="0" rx="3.9" ry="7"/><ellipse cx="29" cy="0" rx="1.9" ry="3.5"/></g><ellipse cx="958.6" cy="965" rx="19.8" ry="11" class="w"/><ellipse cx="958.4" cy="966.5" rx="16.5" ry="8.2"/><ellipse cx="958.3" cy="967.4" rx="13.3" ry="6"/><path class="wf" d="M940,996 A18.5,8 0 0 1 977,996 L977,1005 L987.5,1012 L987.5,1040 L978,1047 L978,1066 A18.7,6 0 0 1 940.8,1066 L940.8,1047 L929,1040 L929,1012 L940,1005 Z"/><ellipse cx="958.5" cy="996" rx="18.5" ry="8"/><path d="M949.6,996.1A9,5 0 0 1 967.4,996.1"/><path d="M940,996 L940,1005 M977,996 L977,1005"/><path d="M977,1000A18.5,6 0 0 1 940,1000"/><path d="M929,1012 L940,1005 L977,1005 L987.5,1012 L987.5,1040 L978,1047 L940.8,1047 L929,1040 Z"/><path d="M929,1012 L940,1020 L977,1020 L987.5,1012 M940,1020 L940,1047 M977,1020 L977,1047"/><path d="M940.8,1047 L940.8,1066 A18.7,6 0 0 0 978,1066 L978,1047"/><path d="M977.8,1054.9A18.7,5 0 0 1 941,1054.9"/><path d="M977.8,1060.9A18.7,5 0 0 1 941,1060.9"/><ellipse cx="958.2" cy="1094.8" rx="20.2" ry="10.7" class="w"/><ellipse cx="958.2" cy="1094.5" rx="14" ry="6.5"/><circle cx="958.2" cy="1132.7" r="15" class="w"/><path d="M958,1122.5 C966,1123 968,1133 962,1139 L959,1141"/><path d="M959.5,1124.5 C964,1126 965,1133 961,1137"/><path d="M944.7,1160 L944.7,1195 A13.6,5 0 0 0 972,1195 L972,1160" class="w"/><ellipse cx="958.3" cy="1160" rx="13.6" ry="4.5"/><path d="M944.7,1163 Q958.3,1171 972,1161"/><path d="M944.7,1169 Q958.3,1177 972,1167"/><path d="M944.7,1175 Q958.3,1183 972,1173"/><path d="M944.7,1181 Q958.3,1189 972,1179"/><path d="M944.7,1187 Q958.3,1195 972,1185"/><path d="M944.7,1193 Q958.3,1201 972,1191"/><g transform="translate(1280,1820) scale(0.181818)"><path class="wf" d="M440,250 C440,130 590,52 735,52 C880,52 1020,130 1030,250 L1030,110 L1150,125 L1640,400 C1700,440 1745,520 1745,620 L1600,1120 L1100,1070 L900,1170 L790,1300 L760,1345 L600,1420 L565,1445 L390,1470 C300,1460 200,1380 130,1260 C80,1170 65,1010 80,880 L90,800 L300,680 L460,610 L460,360 Z"/><path d="M440,250 C440,130 590,55 735,52 C880,50 1020,130 1030,250 L1030,290"/><path d="M440,250 L440,300 C445,380 560,440 735,442 C900,442 1020,380 1030,290"/><path d="M510,215 C520,300 640,345 735,345 C850,345 950,300 965,215"/><path d="M450,300 C500,380 620,412 735,412 C850,412 960,380 1020,310"/><path d="M470,335 C530,420 650,452 750,455 C870,455 970,415 1010,355"/><path d="M460,360 L460,612 L480,632 M1000,430 L1000,700 C995,800 950,860 865,872"/><path d="M985,120 C1000,105 1030,95 1080,100 C1110,105 1130,115 1150,125 L1640,400 C1700,445 1740,520 1745,610"/><path d="M1040,195 L1350,245 M1040,232 L1270,262"/><path d="M1040,480 C1100,380 1230,290 1350,255"/><path d="M1040,520 C1080,600 1110,750 1100,1030"/><path d="M1100,1070 L905,1168"/><ellipse cx="1448" cy="790" rx="394.7" ry="267.2" transform="rotate(-63 1448 790)" class="w"/><ellipse cx="1448" cy="787" rx="370.2" ry="244.3" transform="rotate(-63 1448 787)"/><ellipse cx="1415" cy="762" rx="288.1" ry="169.8" transform="rotate(-63 1415 762)"/><ellipse cx="1420" cy="760" rx="272.3" ry="149.9" transform="rotate(-63 1420 760)"/><path d="M1530,400 L1600,392"/><path d="M1300,540 C1260,580 1230,640 1215,700"/></g><g transform="translate(1280,1920) scale(0.116877)"><path class="wf" d="M130,430 C160,380 190,360 210,360 L460,200 L720,185 L760,180 L900,235 C1000,280 1150,330 1230,370 C1290,400 1310,440 1330,490 L1330,550 C1370,650 1400,800 1400,950 C1400,1050 1350,1100 1240,1150 L1220,1180 L960,1340 L935,1360 C930,1390 900,1400 880,1400 L600,1440 C560,1440 520,1420 490,1390 L200,1040 C140,970 110,850 110,700 C110,600 115,480 130,430 Z"/><path d="M130,430 C160,380 190,360 210,360 L480,340 C520,340 570,370 600,410 L910,770 C930,790 945,830 945,900 L935,1360 C930,1390 900,1400 880,1400 L600,1440 C560,1440 520,1420 490,1390 L200,1040 C140,970 110,850 110,700 C110,600 115,480 130,430 Z"/><path d="M210,360 L460,200 L730,185 M490,338 L720,200 M600,392 L850,250"/><path d="M720,185 L760,180 L860,240 L1180,630 L1230,760 L1220,1180 L960,1340"/><path d="M920,770 L1170,640 M950,910 L1220,760 M940,1330 L1200,1200"/><path d="M900,235 C1000,280 1150,330 1230,370 C1290,400 1310,440 1330,490"/><path d="M1330,550 C1370,650 1400,800 1400,950 C1400,1050 1350,1100 1240,1150"/><ellipse cx="525" cy="895" rx="510" ry="235" transform="rotate(53 525 895)"/><ellipse cx="535" cy="890" rx="470" ry="205" transform="rotate(53 535 890)"/><path d="M390,505 C370,700 450,1000 640,1150 C720,1210 790,1210 810,1190"/><path d="M550,560 C570,700 680,900 820,1050"/></g><g transform="translate(1700,120) scale(0.324675)"><path class="wf" d="M690,320 C600,360 500,420 450,600 C420,720 400,820 360,900 C320,990 260,1060 180,1110 C80,1180 50,1300 80,1420 L180,1530 L240,1470 C160,1400 150,1300 210,1220 C280,1150 350,1100 400,1000 C440,920 460,800 490,680 C520,560 600,460 730,390 Z"/><path d="M690,320 C600,360 510,420 460,560 C430,660 410,780 380,880 C340,1000 280,1060 200,1100 C100,1170 50,1280 65,1380 C75,1450 120,1500 180,1535"/><path d="M730,390 C620,450 540,540 500,680 C470,790 450,880 420,960 C380,1060 320,1130 230,1190 C150,1250 130,1340 160,1420 C180,1460 210,1480 240,1470"/><path d="M690,320 C710,335 725,360 730,390"/><path d="M715,335 L790,255 M725,350 L800,265 M728,355 C800,360 860,340 880,320 M730,370 C800,370 860,355 890,330"/><path d="M765,195 L765,290 L825,320 L1010,205 L1010,100 L965,75 L765,190 Z" class="w"/><path d="M765,190 L825,220 L1010,110 M825,220 L825,320 M790,215 L790,300 L825,320"/><path d="M905,160 L910,200 L830,245 M910,200 L905,290"/><path d="M860,250 L860,345 L915,378 L1105,265 L1105,155 L1060,130 L860,245 Z" class="w"/><path d="M860,248 L915,280 L1105,162 M915,280 L915,378 M880,265 L880,350 L915,370"/><path d="M1000,215 L1000,330 M1000,215 L925,258"/></g><g transform="translate(1720,500) scale(0.259740)"><path class="wf" d="M140,440 C150,400 200,330 430,130 C480,90 540,80 600,90 L1230,440 C1330,480 1440,560 1470,680 L1490,820 C1480,900 1300,1100 1145,1280 L1070,1360 L860,1230 L790,1100 L720,990 L200,680 L160,620 Z"/><path d="M180,440 L215,400 L250,360 L250,335 L280,300 L430,130 C480,90 540,80 560,85 L610,95 L630,80 L650,100 L660,120 L700,150 L720,140 L760,175 L770,185 L1210,435 L1230,430 L1270,460 L1280,480 L1300,490 L1340,510 L1360,530 C1400,560 1440,610 1460,680 L1470,760"/><path d="M140,440 C120,480 125,540 150,580 L160,620 L200,680 L310,750 L560,880 L580,840 L640,870 L660,885 L700,910 L720,990 L1000,1060 C1080,1080 1150,1050 1200,1000 L1260,940 L1400,820 L1450,790"/><path d="M160,600 L200,610 L250,650 L300,680 L310,750 M200,610 L210,690 M250,650 L260,720"/><path d="M580,840 L600,920 L660,940 M640,870 L650,950 L700,980 M700,910 L720,990"/><path d="M1470,760 C1490,800 1490,850 1460,880 L1300,1060 C1250,1110 1180,1140 1130,1150"/><path d="M1455,785 C1480,830 1470,870 1440,900 L1180,1180 C1160,1200 1140,1210 1120,1205"/><path d="M1250,930 L1290,1010 L1400,880 L1360,820 L1340,840 L1260,930 Z M1290,930 L1320,980 M1330,900 L1340,920"/><path d="M720,900 L790,1100 L860,1230 L1070,1360 L1145,1280 L1090,1130 L1000,1080"/><path d="M790,1100 L1000,1220 L1070,1140 M1000,1220 L1070,1360"/><path d="M830,1080 C850,1090 870,1080 880,1060 M960,1160 C980,1170 1000,1160 1010,1140 M860,1200 C900,1200 930,1230 950,1280"/><path d="M1090,1130 C1110,1120 1140,1130 1145,1160 C1150,1190 1140,1200 1120,1205"/><ellipse cx="225" cy="505" rx="80" ry="62" transform="rotate(-20 225 505)" class="w"/><ellipse cx="225" cy="505" rx="58" ry="45" transform="rotate(-20 225 505)"/><path d="M258.8,504.8A30,18 -20 0 1 205.6,527.4"/><ellipse cx="1350" cy="670" rx="78" ry="62" transform="rotate(-25 1350 670)" class="w"/><ellipse cx="1350" cy="672" rx="58" ry="45" transform="rotate(-25 1350 672)"/><path d="M1380.1,670.3A30,18 -25 0 1 1329.1,697.5"/></g><g style="stroke-width:1.7"><g transform="translate(2540,420) scale(0.298775)"><path class="wf" d="M470,500 L765,500 L765,1000 L470,1000 Z"/><path d="M474,510 L474,640 M762,520 L762,948"/><path d="M497,955 C540,995 700,995 745,955 M500,978 C545,1015 700,1015 742,980"/><path class="wf" d="M743,368 L797,318 L793,308 L830,271 L877,278 L900,260 C930,240 980,240 994,270 L990,320 L964,395 L927,432 L927,442 L884,492 L765,540 Z"/><path d="M743,368 L797,318 M884,492 L927,442"/><path d="M793,308 L830,271 L877,278 L954,335 L964,395 L927,432"/><path d="M877,290 L849,318 M943,349 L921,377"/><path d="M796,318 C840,330 900,370 924,432"/><ellipse cx="940" cy="292" rx="36" ry="17" transform="rotate(40 940 292)" class="w"/><path d="M921.8,261.8A36,17 40 0 1 966.2,314.2"/><ellipse cx="968" cy="262" rx="24" ry="13" transform="rotate(40 968 262)" class="w"/><path class="wf" d="M515,135 C515,110 545,98 580,96 L590,45 L660,40 L690,75 L680,96 C705,100 728,112 730,135 L730,235 L745,255 L745,470 L765,500 L470,500 L490,470 L490,255 L515,235 Z"/><path d="M515,135 C515,112 545,100 575,98 M668,96 C700,100 728,112 730,135 L730,235 M515,135 L515,240"/><path d="M515,200 C540,225 700,225 730,200 M515,150 C540,170 700,170 730,150"/><path d="M560,80 L585,45 L660,40 L690,75 L680,125 L650,140 L590,140 L560,120 Z" class="w"/><path d="M560,95 L590,106 L650,104 L688,88 M590,106 L590,140 M650,104 L650,140"/><ellipse cx="622" cy="70" rx="22" ry="12"/><ellipse cx="622" cy="70" rx="9" ry="5"/><path d="M490,255 L490,470 M745,255 L745,470 M490,255 C495,240 505,235 515,235 M745,255 C740,242 735,237 730,235"/><path d="M495,300 C505,285 525,285 535,300 M540,305 C560,290 600,285 630,300 M640,300 C660,285 700,285 720,300"/><path d="M520,300 L520,470 M545,305 L545,475 M625,305 L625,480 M655,305 L655,480 M720,300 L720,470"/><path d="M480,470 C490,520 560,545 620,545 C690,545 745,520 755,470"/><path d="M475,500 C490,545 560,560 620,560 C690,560 750,540 765,500"/><path d="M520,470 L525,480 M545,480 L550,490 M590,500 C600,492 610,492 615,500 M640,490 L645,505"/><path class="wf" d="M760,520 C800,480 870,468 920,488 C980,510 1010,560 1012,620 L1040,700 C1045,800 1000,860 900,870 C830,870 780,840 765,800 Z"/><path d="M760,520 C800,480 870,468 920,488 C980,510 1010,560 1012,620"/><ellipse cx="880" cy="690" rx="112" ry="160" transform="rotate(-18 880 690)" class="w"/><ellipse cx="884" cy="694" rx="98" ry="142" transform="rotate(-18 884 694)"/><g transform="translate(872,700) rotate(14)"><path class="wf" d="M0,-72 L110,-72 A47.5,72 0 0 1 110,72 L0,72 A47.5,72 0 0 1 0,-72 Z"/><path d="M0,-72 L110,-72 M0,72 L110,72"/><path d="M0,72A47.5,72 0 0 1 -0,-72"/><ellipse cx="110" cy="0" rx="47.5" ry="72"/><path d="M22,72A47.5,72 0 0 1 22,-72"/><path d="M40,72A47.5,72 0 0 1 40,-72"/><path d="M58,72A47.5,72 0 0 1 58,-72"/><path d="M76,72A47.5,72 0 0 1 76,-72"/><path d="M94,72A47.5,72 0 0 1 94,-72"/><ellipse cx="110" cy="0" rx="38.3" ry="58"/><ellipse cx="108" cy="0" rx="34.3" ry="52"/></g><path class="wf" d="M200,790 L470,655 L540,670 L660,770 L668,850 L410,1030 L330,1045 L230,1065 L130,1100 L60,1100 L40,1020 L60,930 L120,870 L170,835 Z"/><path d="M200,792 L470,657"/><path d="M200,792 C192,800 192,812 200,818 L222,830"/><path d="M380,890 C380,870 392,860 410,855 L470,835 M490,848 L640,775 C660,775 666,790 666,810 L666,852 L410,1030 C395,1035 385,1025 383,1010 L380,890"/><path d="M398,905 C398,890 405,880 420,876 L480,852 C488,850 495,858 495,866 M500,860 L648,790"/><path d="M540,670 C560,670 585,690 600,710 L655,760"/><path d="M320,850 C340,850 360,872 370,900 L380,1000 C376,1028 362,1040 340,1042"/><g transform="translate(339,905) rotate(156)"><path class="wf" d="M0,-98 L40,-98 A60.8,98 0 0 1 40,98 L0,98 A60.8,98 0 0 1 0,-98 Z"/><path d="M0,-98 L40,-98 M0,98 L40,98"/><path d="M0,98A60.8,98 0 0 1 -0,-98"/><path d="M40,-98A60.8,98 0 0 1 40,98"/><path class="wf" d="M-27,0 L6.5,-93.5 L128.5,-93.5 L162,0 L128.5,93.5 L6.5,93.5Z"/><path d="M-27,0 L6.5,-93.5 L128.5,-93.5 L162,0 L128.5,93.5 L6.5,93.5Z"/><path d="M162,0 L128.5,93.5 L61.5,93.5 L28,0 L61.5,-93.5 L128.5,-93.5Z"/><path d="M6.5,93.5 L61.5,93.5"/><path d="M-27,0 L28,0"/><path d="M6.5,-93.5 L61.5,-93.5"/><ellipse cx="95" cy="0" rx="55.8" ry="90"/><path class="wf" d="M95,-86 L262,-86 A53.3,86 0 0 1 262,86 L95,86 A53.3,86 0 0 1 95,-86 Z"/><path d="M95,-86 L262,-86 M95,86 L262,86"/><path d="M95,86A53.3,86 0 0 1 95,-86"/><ellipse cx="262" cy="0" rx="53.3" ry="86"/><path d="M115,86A53.3,86 0 0 1 115,-86"/><path d="M135,86A53.3,86 0 0 1 135,-86"/><path d="M155,86A53.3,86 0 0 1 155,-86"/><path d="M175,86A53.3,86 0 0 1 175,-86"/><path d="M195,86A53.3,86 0 0 1 195,-86"/><path d="M215,86A53.3,86 0 0 1 215,-86"/><path d="M235,86A53.3,86 0 0 1 235,-86"/><ellipse cx="262" cy="0" rx="45.9" ry="74"/><ellipse cx="260" cy="0" rx="42.2" ry="68"/></g><path d="M300,700 L300,760 C310,795 420,800 430,760 L430,700 Z" class="w"/><path d="M300,700 L318,686 L410,686 L430,700 M318,686 L330,700 L400,700 L410,686 M330,700 L330,765 M400,700 L400,770"/><path d="M310,690 L310,600 C310,580 340,570 360,570 C390,570 412,580 412,600 L412,690" class="w"/><ellipse cx="361" cy="598" rx="51" ry="24"/><path d="M398,668 C392,655 402,645 415,650 L460,680 C475,690 472,715 458,718 L420,708" class="w"/><path d="M415,660 L410,690 M430,668 L425,700 M445,676 L440,706"/><ellipse cx="462" cy="703" rx="9" ry="13" transform="rotate(-20 462 703)"/><path class="wf" d="M497,1000 L745,1000 L760,950 C820,960 900,980 960,1010 C1010,1040 1040,1080 1045,1130 L1060,1250 C1050,1310 980,1345 900,1345 L790,1325 L760,1300 L680,1420 L640,1460 L530,1470 L470,1470 L380,1410 L340,1330 L330,1250 L340,1180 C360,1150 400,1130 440,1120 L497,1110 Z"/><path d="M497,1000 L497,1112 M745,1000 L745,1120"/><path d="M497,1020 C540,1052 700,1052 745,1020"/><path d="M745,965 L760,950 C820,960 900,980 960,1010 C1010,1040 1040,1080 1045,1130"/><path d="M760,1180 L760,1300 C775,1315 785,1322 800,1325"/><path d="M745,1120 C750,1170 760,1200 760,1240"/><ellipse cx="912" cy="1185" rx="128" ry="168" transform="rotate(-20 912 1185)" class="w"/><ellipse cx="916" cy="1188" rx="112" ry="150" transform="rotate(-20 916 1188)"/><g transform="translate(862,1178) rotate(16)"><path class="wf" d="M0,-84 L140,-84 A55.4,84 0 0 1 140,84 L0,84 A55.4,84 0 0 1 0,-84 Z"/><path d="M0,-84 L140,-84 M0,84 L140,84"/><path d="M0,84A55.4,84 0 0 1 -0,-84"/><ellipse cx="140" cy="0" rx="55.4" ry="84"/><path d="M25,84A55.4,84 0 0 1 25,-84"/><path d="M45,84A55.4,84 0 0 1 45,-84"/><path d="M65,84A55.4,84 0 0 1 65,-84"/><path d="M85,84A55.4,84 0 0 1 85,-84"/><path d="M105,84A55.4,84 0 0 1 105,-84"/><path d="M125,84A55.4,84 0 0 1 125,-84"/><ellipse cx="140" cy="0" rx="46.2" ry="70"/><ellipse cx="138" cy="0" rx="42.2" ry="64"/></g><path d="M520,1110 L600,1098 L662,1180 L682,1250 L682,1420 L640,1448"/><path d="M560,1130 L640,1120 M620,1200 L680,1185 M640,1420 L682,1410"/><path d="M340,1180 C360,1150 400,1130 440,1120 L520,1110 L560,1130 L620,1200 L640,1250 L640,1420 L610,1460 L530,1472 L470,1470 L380,1410 L340,1330 L330,1250 Z" class="w"/><ellipse cx="458" cy="1318" rx="150" ry="92" transform="rotate(62 458 1318)"/><ellipse cx="462" cy="1315" rx="130" ry="78" transform="rotate(62 462 1315)"/><path d="M430,1200 C420,1260 440,1360 500,1430 M470,1200 C480,1270 520,1350 555,1390"/></g></g></g>
<g class="ld"><path d="M900.4,158.0L1014.0,158.0"/><path d="M900.0,239.2L1001.0,239.2"/><path d="M900.0,296.0L990.0,296.0"/><path d="M821.0,364.0L858.6,364.0"/><path d="M1360.0,215.7L1394.0,215.7"/><path d="M1360.0,295.4L1394.0,295.4"/><path d="M1360.0,406.0L1394.0,406.0"/><path d="M1360.0,487.8L1392.0,487.8"/><path d="M1362.0,609.0L1392.0,609.0"/><path d="M1436.6,650.3L1458.0,665.5L1482.0,665.5"/><path d="M1362.0,684.2L1395.0,684.2"/><path d="M1347.0,913.3L1386.0,913.3"/><path d="M1348.0,994.3L1372.0,994.3"/><path d="M1348.0,1052.0L1380.0,1052.0"/><path d="M1348.0,1107.5L1398.0,1107.5"/><path d="M1438.0,1167.8L1485.0,1167.8"/><path d="M1443.6,1227.5L1485.0,1227.5"/><path d="M1339.7,1238.0L1339.7,1244.4L1389.0,1284.7"/><path d="M1267.0,1197.7L1305.7,1286.0"/><path d="M1102.0,1134.0L1102.0,1170.0"/><path d="M890.6,910.6L942.0,910.6"/><path d="M890.6,964.0L940.0,964.0"/><path d="M890.6,1040.5L950.0,1040.5"/><path d="M890.6,1088.6L940.0,1088.6"/><path d="M890.6,1140.0L955.0,1140.0"/><path d="M890.6,1191.0L947.0,1191.0"/><path d="M1647.5,1464.7L1689.0,1464.7"/><path d="M1442.0,1592.0L1485.0,1592.0"/><path d="M1595.6,1243.0Q1606.0,1280.0 1603.4,1321.0"/><path d="M1621.0,1222.0L1654.0,1256.0L1654.0,1267.8"/><path d="M1688.3,1123.0L1708.6,1182.0L1708.6,1202.0"/><path d="M1776.0,1043.6L1776.0,1131.4"/><path d="M1808.0,1008.0L1850.4,1057.0L1850.4,1091.0"/><path d="M1731.5,928.8L1731.5,939.0L1801.4,966.0"/><path d="M1782.0,869.7L1782.0,893.4L1820.0,949.0"/><path d="M1834.0,814.0L1840.0,913.6"/><path d="M1929.7,901.8L1950.0,940.6L1950.0,962.6"/><path d="M2022.6,915.0L2022.6,962.6"/><path d="M2099.0,715.0L2142.0,715.0"/><path d="M965.8,1479.0L965.8,1552.0"/><path d="M905.8,1514.6L905.8,1576.0"/><path d="M834.4,1555.0L834.4,1621.8"/><path d="M768.0,1594.0L768.0,1646.0"/><path d="M669.0,1649.0L669.0,1706.0"/><path d="M607.0,1686.7L607.0,1733.7"/><path d="M471.0,1766.0L471.0,1808.0"/><path d="M753.0,1712.6L779.0,1748.0L779.0,1758.0"/><path d="M1233.7,1691.4L1233.7,1740.0"/><path d="M1336.0,1750.0L1336.0,1795.0"/><path d="M1443.0,1677.8L1483.7,1677.8"/><path d="M1540.4,1836.3L1540.4,1878.0"/><path d="M1650.8,1899.0L1650.8,1956.6"/></g>
<g class="lb"><text x="877.5" y="180.4">2</text><text x="877.0" y="264.0">3</text><text x="877.0" y="319.0">5</text><text x="798.0" y="386.5">6</text><text x="1337.0" y="238.6">7</text><text x="1337.0" y="319.3">8</text><text x="1337.0" y="428.0">7</text><text x="1336.5" y="511.2">9</text><path d="M1331.2,634.0L1331.2,601.4L1327.9,601.4C1327.0,604.0 1323.3,607.2 1318.8,608.5L1318.8,612.2C1322.4,611.2 1325.2,609.4 1327.1,607.6L1327.1,634.0Z"/><text x="1339.5" y="634.0">0</text><path d="M1510.4,683.0L1510.4,650.4L1507.1,650.4C1506.2,653.0 1502.5,656.2 1498.0,657.5L1498.0,661.2C1501.6,660.2 1504.4,658.4 1506.3,656.6L1506.3,683.0Z"/><path d="M1532.3,683.0L1532.3,650.4L1529.0,650.4C1528.1,653.0 1524.5,656.2 1519.9,657.5L1519.9,661.2C1523.6,660.2 1526.3,658.4 1528.2,656.6L1528.2,683.0Z"/><path d="M1331.0,711.0L1331.0,678.4L1327.7,678.4C1326.8,681.0 1323.1,684.2 1318.6,685.5L1318.6,689.2C1322.2,688.2 1325.0,686.4 1326.9,684.6L1326.9,711.0Z"/><text x="1339.3" y="711.0">2</text><path d="M1317.4,934.8L1317.4,902.2L1314.1,902.2C1313.2,904.8 1309.5,908.0 1305.0,909.3L1305.0,913.0C1308.6,912.0 1311.4,910.2 1313.3,908.4L1313.3,934.8Z"/><text x="1325.7" y="934.8">3</text><path d="M1316.4,1018.4L1316.4,985.8L1313.1,985.8C1312.2,988.4 1308.5,991.6 1304.0,992.9L1304.0,996.6C1307.6,995.6 1310.4,993.8 1312.3,992.0L1312.3,1018.4Z"/><text x="1324.7" y="1018.4">4</text><path d="M1316.4,1074.3L1316.4,1041.7L1313.1,1041.7C1312.2,1044.3 1308.5,1047.5 1304.0,1048.8L1304.0,1052.5C1307.6,1051.5 1310.4,1049.7 1312.3,1047.9L1312.3,1074.3Z"/><text x="1324.7" y="1074.3">5</text><path d="M1316.4,1131.4L1316.4,1098.8L1313.1,1098.8C1312.2,1101.4 1308.5,1104.6 1304.0,1105.9L1304.0,1109.6C1307.6,1108.7 1310.4,1106.8 1312.3,1105.0L1312.3,1131.4Z"/><text x="1324.7" y="1131.4">6</text><path d="M1497.4,1184.7L1497.4,1152.1L1494.1,1152.1C1493.2,1154.7 1489.5,1157.9 1485.0,1159.2L1485.0,1162.9C1488.6,1162.0 1491.4,1160.1 1493.3,1158.3L1493.3,1184.7Z"/><text x="1505.7" y="1184.7">7</text><path d="M1497.4,1244.4L1497.4,1211.8L1494.1,1211.8C1493.2,1214.4 1489.5,1217.6 1485.0,1218.9L1485.0,1222.6C1488.6,1221.7 1491.4,1219.8 1493.3,1218.0L1493.3,1244.4Z"/><text x="1505.7" y="1244.4">8</text><path d="M1341.2,1235.3L1341.2,1202.7L1337.9,1202.7C1337.0,1205.3 1333.3,1208.5 1328.8,1209.8L1328.8,1213.5C1332.4,1212.5 1335.2,1210.7 1337.1,1208.9L1337.1,1235.3Z"/><text x="1349.5" y="1235.3">9</text><text x="1250.7" y="1195.6">2</text><text x="1276.0" y="1195.6">0</text><text x="1080.0" y="1132.0">2</text><path d="M1122.2,1132.0L1122.2,1099.4L1118.9,1099.4C1118.0,1102.0 1114.4,1105.2 1109.8,1106.5L1109.8,1110.2C1113.5,1109.2 1116.2,1107.4 1118.1,1105.6L1118.1,1132.0Z"/><text x="842.0" y="935.3">2</text><text x="867.3" y="935.3">2</text><text x="843.0" y="987.3">4</text><text x="868.3" y="987.3">9</text><text x="842.0" y="1065.2">5</text><text x="867.3" y="1065.2">0</text><text x="842.0" y="1110.6">2</text><text x="867.3" y="1110.6">3</text><text x="842.0" y="1164.0">2</text><text x="867.3" y="1164.0">4</text><text x="842.0" y="1213.0">2</text><text x="867.3" y="1213.0">5</text><text x="1692.0" y="1482.0">2</text><text x="1717.3" y="1482.0">6</text><text x="1483.0" y="1612.0">2</text><text x="1508.3" y="1612.0">7</text><text x="1579.0" y="1366.5">2</text><text x="1604.3" y="1366.5">8</text><text x="1628.0" y="1312.0">4</text><text x="1653.3" y="1312.0">0</text><text x="1685.6" y="1249.6">4</text><path d="M1727.8,1249.6L1727.8,1217.0L1724.5,1217.0C1723.6,1219.6 1720.0,1222.8 1715.4,1224.1L1715.4,1227.8C1719.1,1226.8 1721.8,1225.0 1723.7,1223.2L1723.7,1249.6Z"/><text x="1749.8" y="1177.0">4</text><text x="1775.1" y="1177.0">2</text><text x="1825.8" y="1138.0">4</text><text x="1851.1" y="1138.0">3</text><text x="1704.0" y="928.8">4</text><text x="1729.3" y="928.8">4</text><text x="1754.0" y="866.4">4</text><text x="1779.3" y="866.4">5</text><text x="1808.0" y="812.0">4</text><text x="1833.3" y="812.0">6</text><text x="1923.7" y="1006.5">4</text><text x="1949.0" y="1006.5">7</text><text x="1996.3" y="1006.5">4</text><text x="2021.6" y="1006.5">8</text><text x="2143.7" y="737.7">4</text><text x="941.0" y="1477.0">3</text><text x="966.3" y="1477.0">3</text><text x="882.7" y="1514.6">3</text><text x="908.0" y="1514.6">4</text><text x="811.0" y="1553.6">3</text><text x="836.3" y="1553.6">5</text><text x="744.8" y="1592.5">3</text><text x="770.1" y="1592.5">8</text><text x="645.8" y="1647.7">3</text><text x="671.1" y="1647.7">7</text><path d="M598.4,1683.4L598.4,1650.8L595.1,1650.8C594.2,1653.4 590.6,1656.6 586.0,1657.9L586.0,1661.6C589.6,1660.7 592.4,1658.8 594.3,1657.0L594.3,1683.4Z"/><text x="606.7" y="1683.4">5</text><text x="447.8" y="1764.6">3</text><text x="473.1" y="1764.6">9</text><text x="753.0" y="1800.0">3</text><text x="778.3" y="1800.0">6</text><text x="1210.6" y="1690.0">3</text><text x="1235.9" y="1690.0">2</text><text x="1309.6" y="1746.6">3</text><path d="M1351.8,1746.6L1351.8,1714.0L1348.5,1714.0C1347.6,1716.6 1344.0,1719.8 1339.4,1721.1L1339.4,1724.8C1343.1,1723.8 1345.8,1722.0 1347.7,1720.2L1347.7,1746.6Z"/><text x="1483.0" y="1698.0">2</text><text x="1508.3" y="1698.0">0</text><text x="1516.4" y="1832.0">3</text><text x="1541.7" y="1832.0">0</text><text x="1627.8" y="1894.8">2</text><text x="1653.1" y="1894.8">9</text></g>
<g class="lb"><path d="M2645.4,543.9L2645.4,511.3L2642.1,511.3C2641.2,513.9 2637.5,517.1 2633.0,518.4L2633.0,522.1C2636.6,521.1 2639.4,519.3 2641.3,517.5L2641.3,543.9Z"/></g>
<g class="ld"><path d="M2653.5,522.6L2689,522.6"/></g>
<g class="bd"><circle cx="1460.5" cy="624.0" r="17.6"/><text x="1452.9" y="635.6" class="bf">F</text><circle cx="1471.7" cy="1025.0" r="17.6"/><text x="1464.1" y="1036.6" class="bf">F</text><circle cx="1464.0" cy="1257.4" r="17.6"/><text x="1456.4" y="1269.0" class="bf">F</text><circle cx="1553.0" cy="1192.5" r="17.6"/><text x="1545.4" y="1204.1" class="bf">F</text><circle cx="1003.6" cy="983.9" r="17.6"/><text x="996.0" y="995.5" class="bf">F</text><circle cx="1003.0" cy="1096.4" r="17.6"/><text x="995.4" y="1108.0" class="bf">F</text><circle cx="1295.5" cy="1373.3" r="17.6"/><text x="1287.9" y="1384.9" class="bf">F</text><circle cx="1606.8" cy="1571.7" r="17.6"/><text x="1599.2" y="1583.3" class="bf">F</text><circle cx="1348.3" cy="1663.8" r="17.6"/><text x="1340.7" y="1675.4" class="bf">F</text><circle cx="1289.0" cy="1907.3" r="17.6"/><text x="1281.4" y="1918.9" class="bf">F</text><circle cx="1660.8" cy="2080.0" r="17.6"/><text x="1653.2" y="2091.6" class="bf">F</text><circle cx="1862.0" cy="989.6" r="17.6"/><text x="1854.4" y="1001.2" class="bf">F</text><circle cx="1005.0" cy="1601.4" r="17.6"/><text x="997.4" y="1613.0" class="bf">F</text><circle cx="828.0" cy="1707.8" r="17.6"/><text x="820.4" y="1719.4" class="bf">F</text><circle cx="690.0" cy="1789.0" r="17.6"/><text x="682.4" y="1800.6" class="bf">F</text></g>
</g>
</svg>
</body></html>
